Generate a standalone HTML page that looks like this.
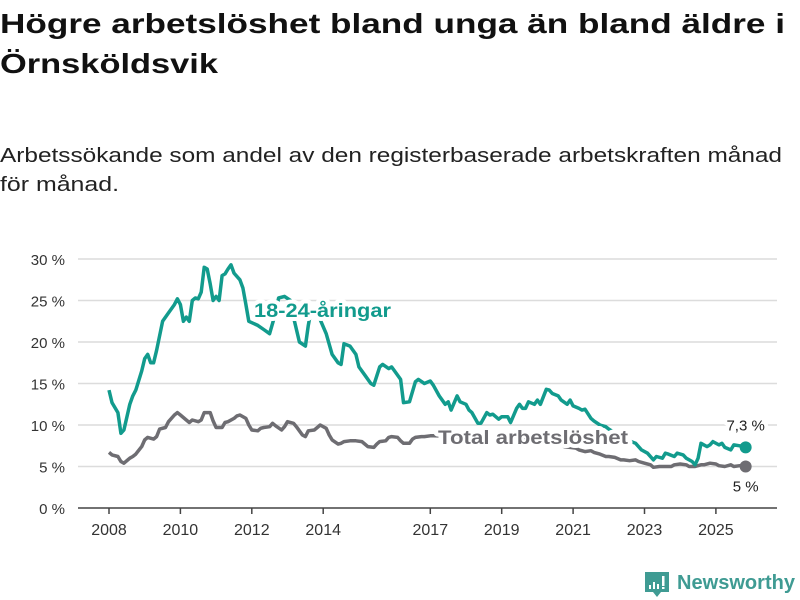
<!DOCTYPE html>
<html><head><meta charset="utf-8"><style>
html,body{margin:0;padding:0;background:#fff;}
svg{display:block;font-family:"Liberation Sans",sans-serif;}
</style></head><body>
<svg id="chart" width="800" height="600" viewBox="0 0 800 600">
<text x="0" y="33" font-size="28" font-weight="bold" fill="#111" textLength="785" lengthAdjust="spacingAndGlyphs">Högre arbetslöshet bland unga än bland äldre i</text>
<text x="0" y="73" font-size="28" font-weight="bold" fill="#111" textLength="218" lengthAdjust="spacingAndGlyphs">Örnsköldsvik</text>
<text x="0" y="162" font-size="20" fill="#222" textLength="782" lengthAdjust="spacingAndGlyphs">Arbetssökande som andel av den registerbaserade arbetskraften månad</text>
<text x="0" y="191" font-size="20" fill="#222" textLength="119" lengthAdjust="spacingAndGlyphs">för månad.</text>
<g id="grid"></g>
<g id="lines"></g>
<g id="labels"></g>
<g>
<path d="M645 572h24v20h-8l-4 5-4-5h-8z" fill="#3f9b93"/>
<rect x="649" y="585" width="2" height="4" fill="#fff"/><rect x="653" y="582" width="2" height="7" fill="#fff"/><rect x="657" y="584" width="2" height="5" fill="#fff"/><rect x="662" y="576" width="2.5" height="10" fill="#fff"/><rect x="662" y="587" width="2.5" height="2" fill="#fff"/>
<text x="677" y="589" font-size="20" font-weight="bold" fill="#3f9b93" textLength="118" lengthAdjust="spacingAndGlyphs">Newsworthy</text>
</g>
</svg>
<script>
const yTicks=[0,5,10,15,20,25,30];
const yTickLabels=["0 %","5 %","10 %","15 %","20 %","25 %","30 %"];
const xTicks=[2008,2010,2012,2014,2017,2019,2021,2023,2025];
const youthMonths=[0,1,3,4,5,7,8,9,11,12,13,14,15,16,18,19,20,22,23,24,25,26,27,28,29,30,31,32,33,34,35,36,37,38,39,40,41,42,44,45,46,47,50,52,54,56,57,59,61,62,64,66,67,68,70,73,75,77,78,79,81,83,84,86,88,89,91,92,94,95,96,98,99,101,103,104,106,108,109,111,113,114,115,117,118,120,121,122,124,125,127,128,129,131,132,134,135,137,138,139,140,141,143,144,145,147,148,149,151,152,154,155,156,158,159,160,162,163,165,167,168,172,174,177,179,181,183,184,186,187,188,190,191,193,194,196,197,198,199,201,202,203,205,206,207,209,210,212,214];
const youthValues=[14.2,12.7,11.5,9.0,9.4,12.5,13.5,14.2,16.5,18.0,18.5,17.5,17.5,19.0,22.5,23.0,23.5,24.5,25.2,24.5,22.5,23.0,22.5,25.0,25.3,25.2,26.0,29.0,28.8,27.0,25.0,25.5,25.0,28.0,28.2,28.8,29.3,28.3,27.5,26.5,24.5,22.5,22.0,21.5,21.0,23.5,25.3,25.5,25.0,23.0,20.0,19.5,22.0,24.0,23.5,21.0,18.5,17.5,17.3,19.8,19.5,18.5,17.0,16.0,15.0,14.8,17.0,17.3,16.8,17.0,16.5,15.5,12.7,12.8,15.2,15.5,15.0,15.3,14.8,13.5,12.5,12.8,11.8,13.5,12.8,12.5,11.8,11.5,10.2,10.2,11.5,11.2,11.3,10.7,11.0,11.0,10.3,12.0,12.5,12.0,12.0,12.8,12.5,13.0,12.5,14.3,14.2,13.8,13.5,13.0,12.5,13.0,12.3,12.0,11.8,11.9,10.8,10.5,10.0,9.8,9.5,8.6,8.2,7.8,7.0,6.6,5.8,6.2,6.0,6.6,6.5,6.2,6.6,6.4,6.0,5.6,5.2,6.0,7.8,7.4,7.6,8.0,7.6,7.8,7.3,7.0,7.6,7.5,7.3];
const totalMonths=[0,1,3,4,5,7,8,9,11,12,13,15,16,17,19,20,22,23,24,26,27,28,30,31,32,34,35,36,38,39,40,42,43,44,46,47,48,50,51,52,54,55,56,58,59,60,62,63,65,66,67,69,70,71,73,74,75,77,78,79,81,82,83,85,86,87,89,90,91,93,94,95,97,98,99,101,102,103,105,106,108,109,120,135,150,152,153,155,157,158,160,162,163,165,167,168,170,172,173,175,177,178,180,182,183,185,187,189,190,192,194,195,197,199,200,202,204,205,207,209,210,212,214];
const totalValues=[6.7,6.4,6.2,5.6,5.4,6.0,6.2,6.5,7.4,8.2,8.5,8.3,8.6,9.5,9.7,10.4,11.2,11.5,11.2,10.6,10.3,10.6,10.4,10.6,11.5,11.5,10.5,9.7,9.7,10.3,10.4,10.8,11.1,11.2,10.8,10.0,9.4,9.3,9.6,9.7,9.8,10.2,9.9,9.4,9.8,10.4,10.2,9.8,8.8,8.6,9.3,9.4,9.7,10.0,9.6,8.8,8.2,7.7,7.8,8.0,8.1,8.1,8.1,8.0,7.7,7.4,7.3,7.7,8.0,8.1,8.5,8.6,8.5,8.1,7.8,7.8,8.3,8.5,8.6,8.6,8.7,8.7,8.6,8.3,8.0,7.6,7.4,7.3,7.2,7.0,6.8,6.9,6.7,6.5,6.2,6.2,6.1,5.8,5.8,5.7,5.8,5.6,5.4,5.2,4.9,5.0,5.0,5.0,5.2,5.3,5.2,5.0,5.0,5.2,5.2,5.4,5.3,5.1,5.0,5.2,5.0,5.1,5.0];

const NS='http://www.w3.org/2000/svg';
const X0=109, PXY=35.7, Y0=508, PXV=8.3;
function xMonth(m){return X0+m/12*PXY;}
function xYear(y){return X0+(y-2008)*PXY;}
function yVal(v){return Y0-v*PXV;}
function mk(tag,attrs,parent){const e=document.createElementNS(NS,tag);for(const k in attrs)e.setAttribute(k,attrs[k]);parent.appendChild(e);return e;}
const grid=document.getElementById('grid');
yTicks.forEach((t,i)=>{
  if(t>0){const l=mk('line',{x1:78,x2:777,y1:yVal(t),y2:yVal(t),stroke:'#dcdcdc','stroke-width':1.5},grid);
  
  }
  const tx=mk('text',{x:65,y:yVal(t)+6,'text-anchor':'end','font-size':15,fill:'#333'},grid);
  tx.textContent=yTickLabels[i];
  
  
});
const ax=mk('line',{x1:78,x2:777,y1:Y0,y2:Y0,stroke:'#444','stroke-width':1.5},grid);


xTicks.forEach(y=>{
  const x=xYear(y);
  const tk=mk('line',{x1:x,x2:x,y1:Y0,y2:Y0+6,stroke:'#444','stroke-width':1.5},grid);
  
  
  const tx=mk('text',{x:x,y:535,'text-anchor':'middle','font-size':16,fill:'#333'},grid);
  tx.textContent=String(y);
  
  
});
const lines=document.getElementById('lines');
function series(ms,vs,color,name){
  const d=ms.map((m,i)=>(i?'L':'M')+xMonth(m).toFixed(1)+' '+yVal(vs[i]).toFixed(1)).join(' ');
  const p=mk('path',{d:d,fill:'none',stroke:color,'stroke-width':3.5,'stroke-linejoin':'round'},lines);
  
  
  const n=ms.length-1;
  const c=mk('circle',{cx:xMonth(ms[n]),cy:yVal(vs[n]),r:6,fill:color},lines);
  
  
}
series(totalMonths,totalValues,'#6e6d72','total');
series(youthMonths,youthValues,'#129b8d','youth');
const labels=document.getElementById('labels');
function lab(x,y,txt,color,size,weight,anchor,name,len){
  const t=mk('text',{x:x,y:y,'font-size':size,'font-weight':weight,fill:color,stroke:'#fff','stroke-width':8,'paint-order':'stroke','stroke-linejoin':'round','text-anchor':anchor},labels);
  if(len){t.setAttribute('textLength',len);t.setAttribute('lengthAdjust','spacingAndGlyphs');}
  t.textContent=txt;
  
  
}
lab(254,317,'18-24-åringar','#129b8d',19,'bold','start','youth-series-label',137);
lab(438,444,'Total arbetslöshet','#6e6d72',19,'bold','start','total-series-label',190);
lab(xMonth(youthMonths[youthMonths.length-1]),yVal(youthValues[youthValues.length-1])-17,'7,3 %','#222',15,'normal','middle','youth-end-value');
lab(xMonth(totalMonths[totalMonths.length-1]),yVal(totalValues[totalValues.length-1])+25,'5 %','#222',15,'normal','middle','total-end-value');
</script>
</body></html>
